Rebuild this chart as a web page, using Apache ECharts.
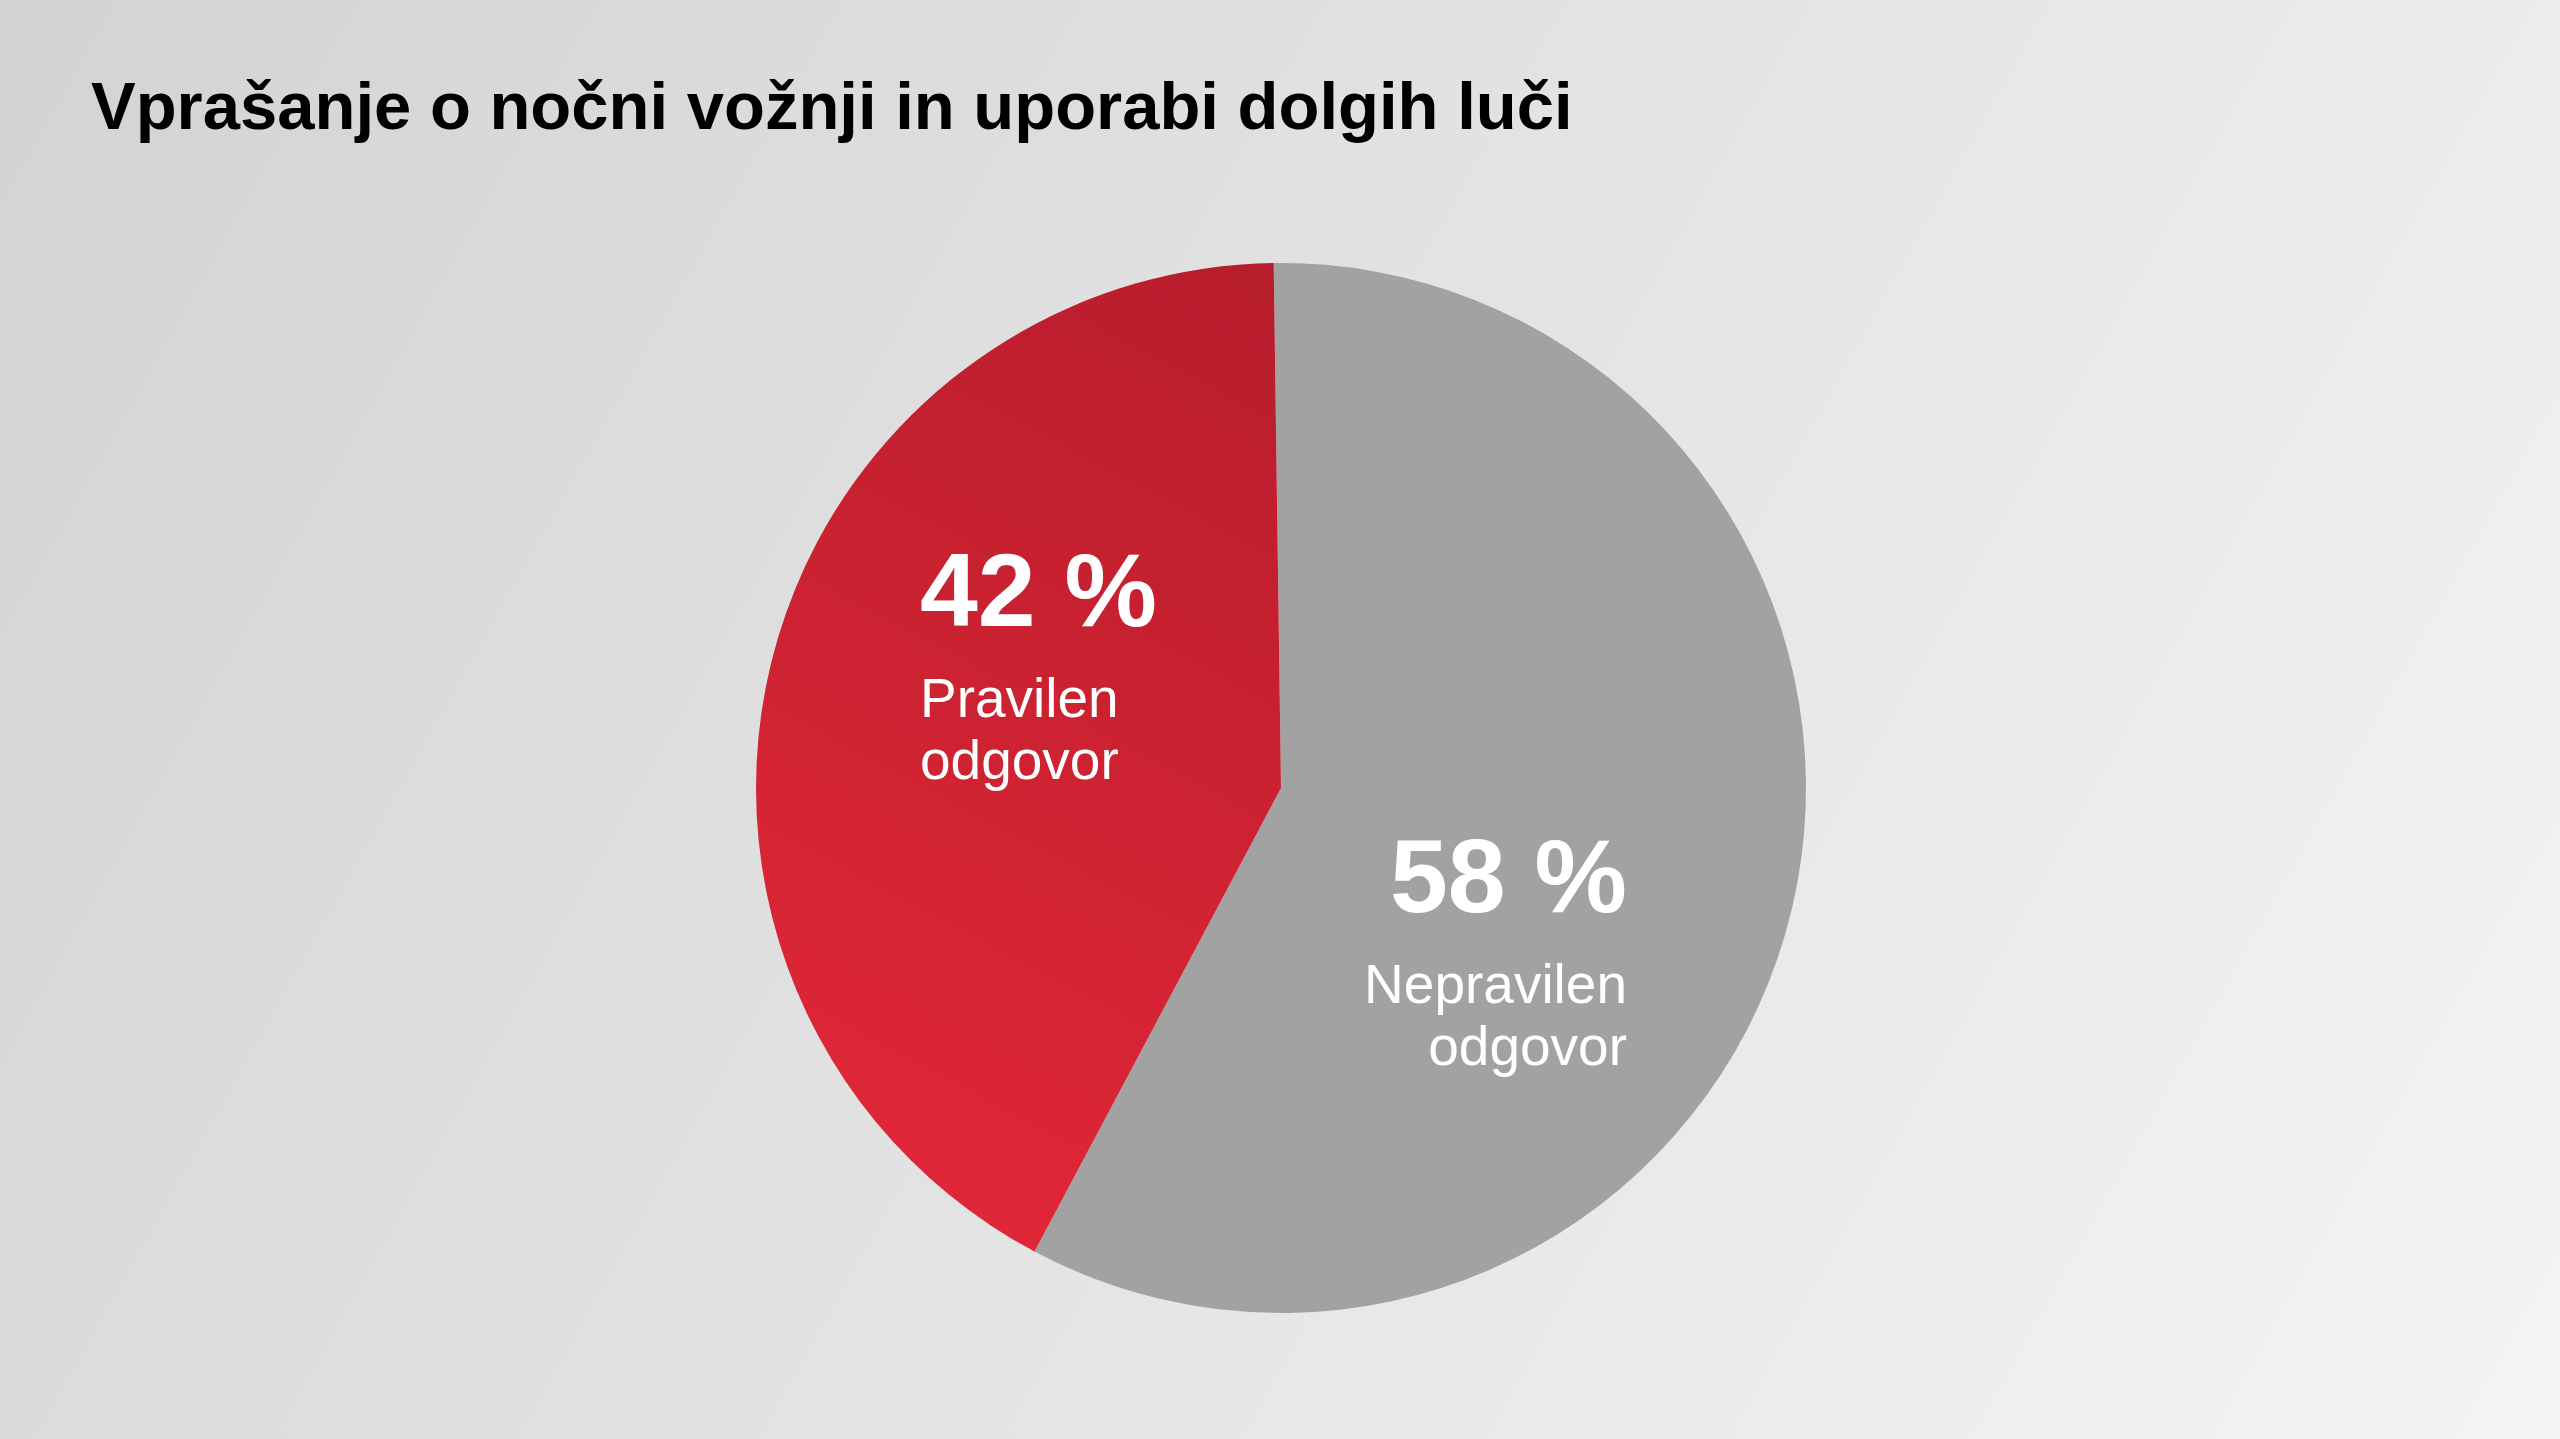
<!DOCTYPE html>
<html>
<head>
<meta charset="utf-8">
<script src="https://cdn.jsdelivr.net/npm/echarts@6/dist/echarts.min.js"></script>
<style>
  html, body { margin: 0; padding: 0; }
  #chart-panel { width: 2560px; height: 1439px; }
</style>
</head>
<body>
<div id="chart-panel"></div>
<script>
(function () {
    var myChart = echarts.init(document.querySelector('#chart-panel'));

    var titleText = 'Vprašanje o nočni vožnji in uporabi dolgih luči';
    var categories = ['Nepravilen odgovor', 'Pravilen odgovor'];
    var values = [58, 42];

    var redFill = new echarts.graphic.LinearGradient(1, 0, 0, 1, [
        { offset: 0, color: '#b71d2c' },
        { offset: 1, color: '#e52838' }
    ]);
    var sliceColors = ['#a2a2a2', redFill];

    var data = [];
    for (var i = 0; i < categories.length; i++) {
        data.push({ name: categories[i], value: values[i], itemStyle: { color: sliceColors[i] } });
    }

    var option = {
        backgroundColor: new echarts.graphic.LinearGradient(0, 0, 1, 1, [
            { offset: 0, color: '#d3d3d3' },
            { offset: 1, color: '#f4f4f4' }
        ]),
        animation: false,
        title: {
            text: titleText,
            left: 86,
            top: 72,
            textStyle: {
                fontFamily: 'Liberation Sans',
                fontWeight: 'bold',
                fontSize: 67,
                color: '#000'
            }
        },
        series: [{
            type: 'pie',
            center: [1281, 788],
            radius: 525,
            startAngle: 90.8,
            clockwise: true,
            silent: true,
            itemStyle: { borderWidth: 0 },
            labelLine: { show: false },
            label: {
                show: true,
                position: 'inside',
                color: '#fff',
                fontFamily: 'Liberation Sans',
                formatter: function (p) {
                    return '{p|' + p.value + ' %}\n{n|' + p.name.split(' ').join('}\n{n|') + '}';
                },
                rich: {
                    p: { fontSize: 104, fontWeight: 'bold', lineHeight: 148, color: '#fff', fontFamily: 'Liberation Sans' },
                    n: { fontSize: 55, lineHeight: 62, color: '#fff', fontFamily: 'Liberation Sans' }
                }
            },
            labelLayout: function (params) {
                if (params.dataIndex === 1) {
                    return { x: 920, y: 523, align: 'left', verticalAlign: 'top' };
                }
                return { x: 1627, y: 809, align: 'right', verticalAlign: 'top' };
            },
            data: data
        }]
    };

    myChart.setOption(option);
})();
</script>
</body>
</html>
